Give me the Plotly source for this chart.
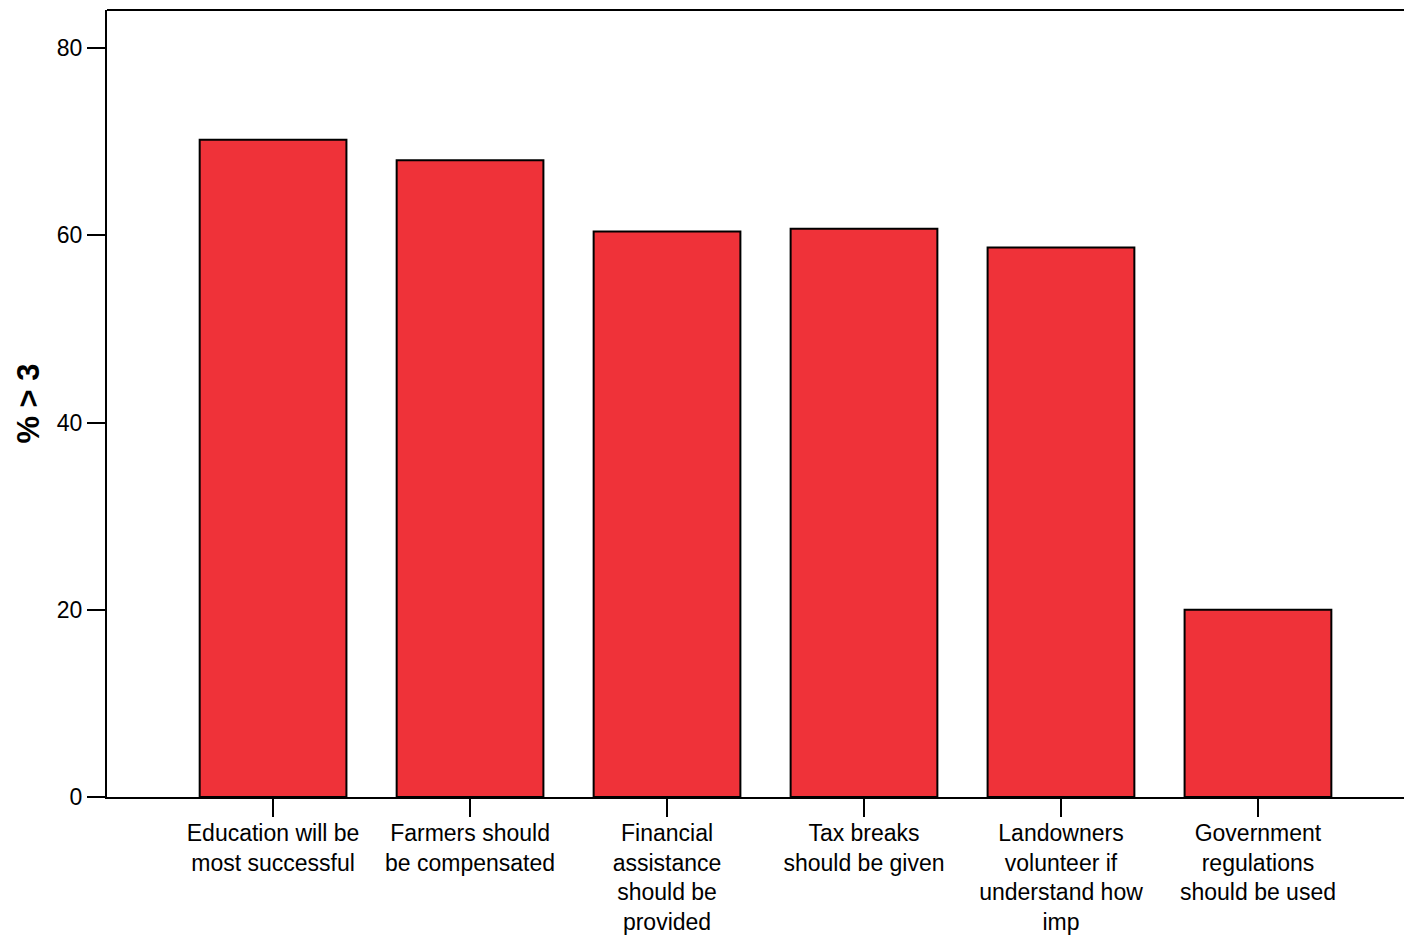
import plotly.graph_objects as go

categories = [
    "Education will be<br>most successful",
    "Farmers should<br>be compensated",
    "Financial<br>assistance<br>should be<br>provided",
    "Tax breaks<br>should be given",
    "Landowners<br>volunteer if<br>understand how<br>imp",
    "Government<br>regulations<br>should be used",
]
values = [70.2, 68.0, 60.4, 60.7, 58.7, 20.0]
y_ticks = [0, 20, 40, 60, 80]

fig = go.Figure(
    go.Bar(
        x=list(range(len(categories))),
        y=values,
        width=0.745,
        marker=dict(color="#EF3239", line=dict(color="black", width=2)),
    )
)

font = "Liberation Sans, Arial, sans-serif"
# page body adds an 8px offset; figure sized so the plot area lands at x 107..1412, y 10..797
fig.update_layout(
    width=1404,
    height=929,
    margin=dict(l=99, r=0, t=2, b=140, autoexpand=False),
    paper_bgcolor="white",
    plot_bgcolor="white",
    showlegend=False,
    font=dict(family=font, size=23, color="black"),
    xaxis=dict(
        range=[-0.843, 5.782],
        tickmode="array",
        tickvals=list(range(len(categories))),
        ticktext=categories,
        ticks="outside",
        ticklen=18,
        tickwidth=2,
        tickcolor="black",
        showline=True,
        linecolor="black",
        linewidth=2,
        showgrid=False,
        zeroline=False,
        tickfont=dict(size=23),
        ticklabelstandoff=-4,
    ),
    yaxis=dict(
        range=[0, 84.06],
        tickmode="array",
        tickvals=y_ticks,
        ticks="outside",
        ticklen=18,
        tickwidth=2,
        tickcolor="black",
        showline=True,
        linecolor="black",
        linewidth=2,
        showgrid=False,
        zeroline=False,
        tickfont=dict(size=23),
        title=dict(text="<b>% > 3</b>", font=dict(size=31), standoff=8),
    ),
)
fig.add_shape(type="line", xref="paper", yref="paper", x0=0, x1=1, y0=1, y1=1,
              line=dict(color="black", width=2))

fig.write_html("out.html")
